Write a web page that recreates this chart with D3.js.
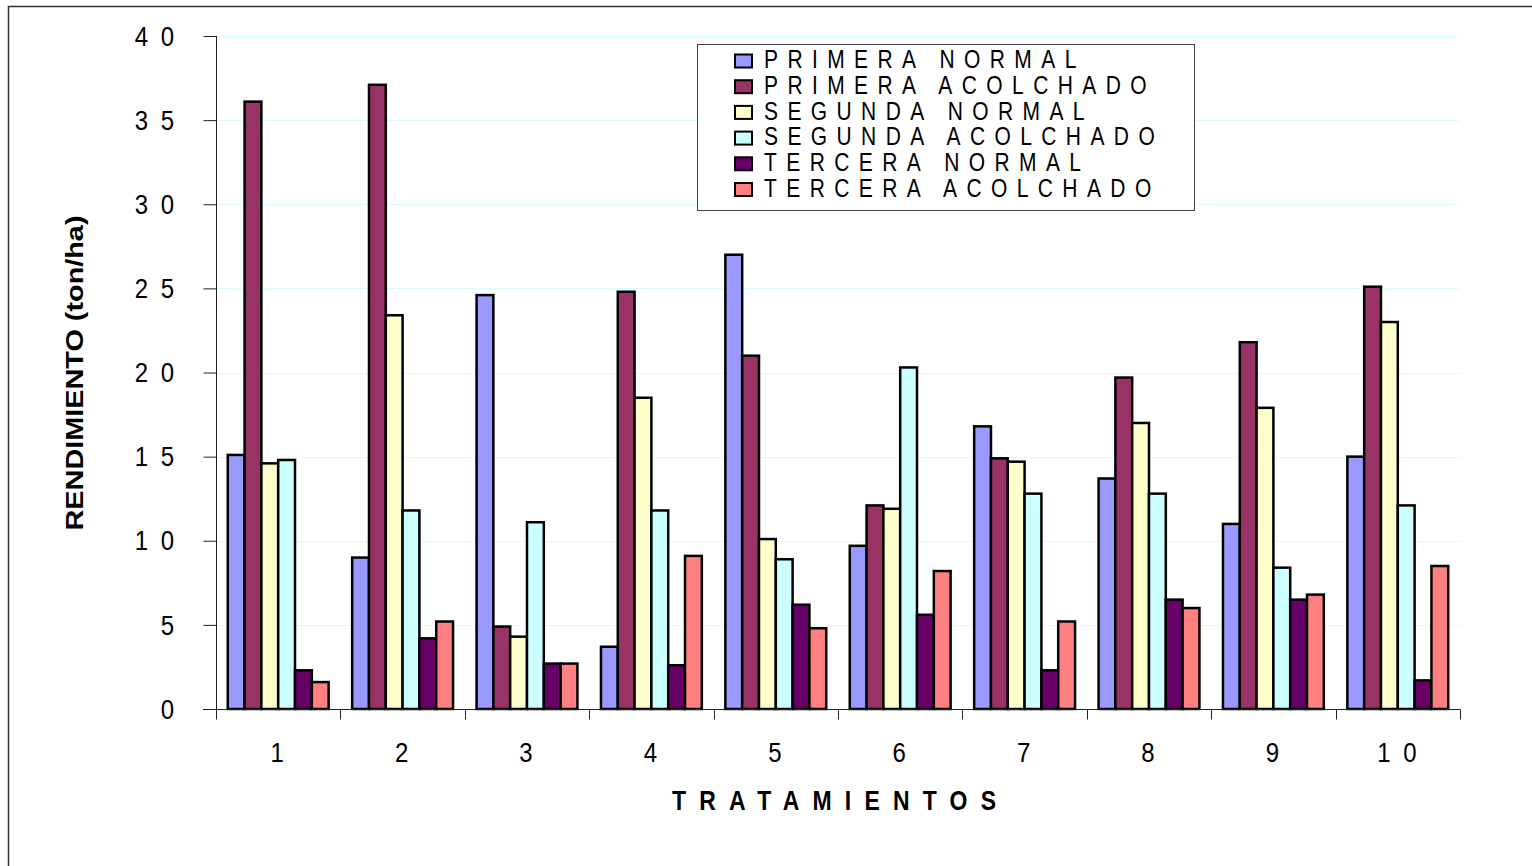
<!DOCTYPE html>
<html>
<head>
<meta charset="utf-8">
<script src="https://cdn.jsdelivr.net/npm/d3@7"></script>
<style>
  html, body { margin: 0; padding: 0; background: #fff; }
  svg { display: block; font-family: "Liberation Sans", Arial, sans-serif; }
</style>
</head>
<body>
<svg id="chart" width="1532" height="866"></svg>
<script>
// Yield per treatment (ton/ha) for each harvest and mulch condition
const tratamientos = ["1", "2", "3", "4", "5", "6", "7", "8", "9", "10"];
const series = ["PRIMERA NORMAL", "PRIMERA ACOLCHADO", "SEGUNDA NORMAL",
                "SEGUNDA ACOLCHADO", "TERCERA NORMAL", "TERCERA ACOLCHADO"];
const primeraNormal     = [15.1,  9.0, 24.6,  3.7, 27.0,  9.7, 16.8, 13.7, 11.0, 15.0];
const primeraAcolchado  = [36.1, 37.1,  4.9, 24.8, 21.0, 12.1, 14.9, 19.7, 21.8, 25.1];
const segundaNormal     = [14.6, 23.4,  4.3, 18.5, 10.1, 11.9, 14.7, 17.0, 17.9, 23.0];
const segundaAcolchado  = [14.8, 11.8, 11.1, 11.8,  8.9, 20.3, 12.8, 12.8,  8.4, 12.1];
const terceraNormal     = [ 2.3,  4.2,  2.7,  2.6,  6.2,  5.6,  2.3,  6.5,  6.5,  1.7];
const terceraAcolchado  = [ 1.6,  5.2,  2.7,  9.1,  4.8,  8.2,  5.2,  6.0,  6.8,  8.5];
const yTicks = [0, 5, 10, 15, 20, 25, 30, 35, 40];
const colors = ["#9999FF", "#993366", "#FFFFCC", "#CCFFFF", "#660066", "#FF8080"];

const values = [primeraNormal, primeraAcolchado, segundaNormal,
                segundaAcolchado, terceraNormal, terceraAcolchado];

const svg = d3.select("#chart");

// outer chart frame (runs off the right and bottom of the page)
svg.append("path")
  .attr("d", "M8.5,900 L8.5,6.5 L1545,6.5")
  .attr("fill", "none").attr("stroke", "#333").attr("stroke-width", 1.5);

const plotLeft = 216, plotRight = 1460, plotTop = 36, plotBottom = 709;

const x0 = d3.scaleBand().domain(tratamientos).range([plotLeft, plotRight]).padding(0);
const x1 = d3.scaleBand().domain(series).range([0, x0.bandwidth()])
  .paddingInner(0).paddingOuter(0.7);
const y = d3.scaleLinear().domain([0, 40]).range([plotBottom, plotTop]);

// helper: text with a slight vertical stretch
function label(g, txt, x, yy, opts) {
  const o = Object.assign({size: 24, ls: 0, anchor: "start", weight: "normal", sy: 1.15}, opts || {});
  let dx = 0;
  if (o.anchor === "middle") dx = o.ls / 2;
  if (o.anchor === "end") dx = o.ls;
  return g.append("text")
    .attr("transform", `translate(${x + dx},${yy}) scale(1,${o.sy})`)
    .attr("text-anchor", o.anchor)
    .attr("dominant-baseline", "central")
    .attr("font-size", o.size)
    .attr("font-weight", o.weight)
    .attr("letter-spacing", o.ls)
    .attr("fill", "#000")
    .text(txt);
}

// gridlines
svg.append("g").selectAll("line")
  .data(yTicks.filter(d => d > 0))
  .join("line")
  .attr("x1", plotLeft).attr("x2", plotRight)
  .attr("y1", d => Math.round(y(d)) + 0.5).attr("y2", d => Math.round(y(d)) + 0.5)
  .attr("stroke", "#D6FFFF").attr("stroke-width", 1);

// bars
const groups = svg.append("g").selectAll("g")
  .data(tratamientos)
  .join("g")
  .attr("transform", d => `translate(${x0(d)},0)`);

groups.selectAll("rect")
  .data((d, i) => series.map((s, k) => ({s, k, v: values[k][i]})))
  .join("rect")
  .attr("x", d => x1(d.s))
  .attr("width", x1.bandwidth())
  .attr("y", d => y(d.v))
  .attr("height", d => y(0) - y(d.v))
  .attr("fill", d => colors[d.k])
  .attr("stroke", "#000")
  .attr("stroke-width", 2.5);

// y axis
const yAxis = svg.append("g").attr("transform", `translate(${plotLeft + 0.5},0)`)
  .call(d3.axisLeft(y).tickValues(yTicks).tickSize(13).tickFormat(""));
yAxis.select(".domain").attr("d", `M0,${plotTop}V${plotBottom + 10}`).attr("stroke", "#222");
yAxis.selectAll(".tick line").attr("stroke", "#222");

yTicks.forEach(t => {
  label(svg, String(t).split("").join(" "), 174, y(t), {size: 24, ls: 3, anchor: "end", sy: 1.18});
});

// x axis
const xAxis = svg.append("g").attr("transform", `translate(0,${plotBottom + 0.5})`);
xAxis.append("line").attr("x1", plotLeft - 13).attr("x2", plotRight)
  .attr("stroke", "#222");
xAxis.selectAll("line.tk")
  .data(tratamientos.concat(["end"]))
  .join("line").attr("class", "tk")
  .attr("x1", (d, i) => Math.round(i === tratamientos.length ? plotRight : x0(d)) + 0.5)
  .attr("x2", (d, i) => Math.round(i === tratamientos.length ? plotRight : x0(d)) + 0.5)
  .attr("y1", 0).attr("y2", 10)
  .attr("stroke", "#222");

tratamientos.forEach(t => {
  label(svg, t.split("").join(" "), x0(t) + x0.bandwidth() / 2 - 1, 752,
    {size: 24, ls: 3, anchor: "middle", sy: 1.18});
});

// axis titles
label(svg, "TRATAMIENTOS", 834, 800, {size: 23, ls: 13.2, anchor: "middle", weight: "bold", sy: 1.2});

svg.append("text")
  .attr("transform", "translate(75,373) rotate(-90) scale(1.0,1.15)")
  .attr("text-anchor", "middle")
  .attr("dominant-baseline", "central")
  .attr("font-size", 21)
  .attr("font-weight", "bold")
  .attr("textLength", 315)
  .attr("lengthAdjust", "spacingAndGlyphs")
  .text("RENDIMIENTO (ton/ha)");

// legend
const lg = svg.append("g");
lg.append("rect").attr("x", 697.5).attr("y", 44.5).attr("width", 497).attr("height", 166)
  .attr("fill", "#fff").attr("stroke", "#444").attr("stroke-width", 1);
series.forEach((s, i) => {
  const cy = 59.5 + i * 25.7;
  lg.append("rect").attr("x", 735).attr("y", cy - 5).attr("width", 17).attr("height", 13)
    .attr("fill", colors[i]).attr("stroke", "#000").attr("stroke-width", 2);
  label(lg, s, 764, cy, {size: 21, ls: 9.4, sy: 1.2});
});
</script>
</body>
</html>
